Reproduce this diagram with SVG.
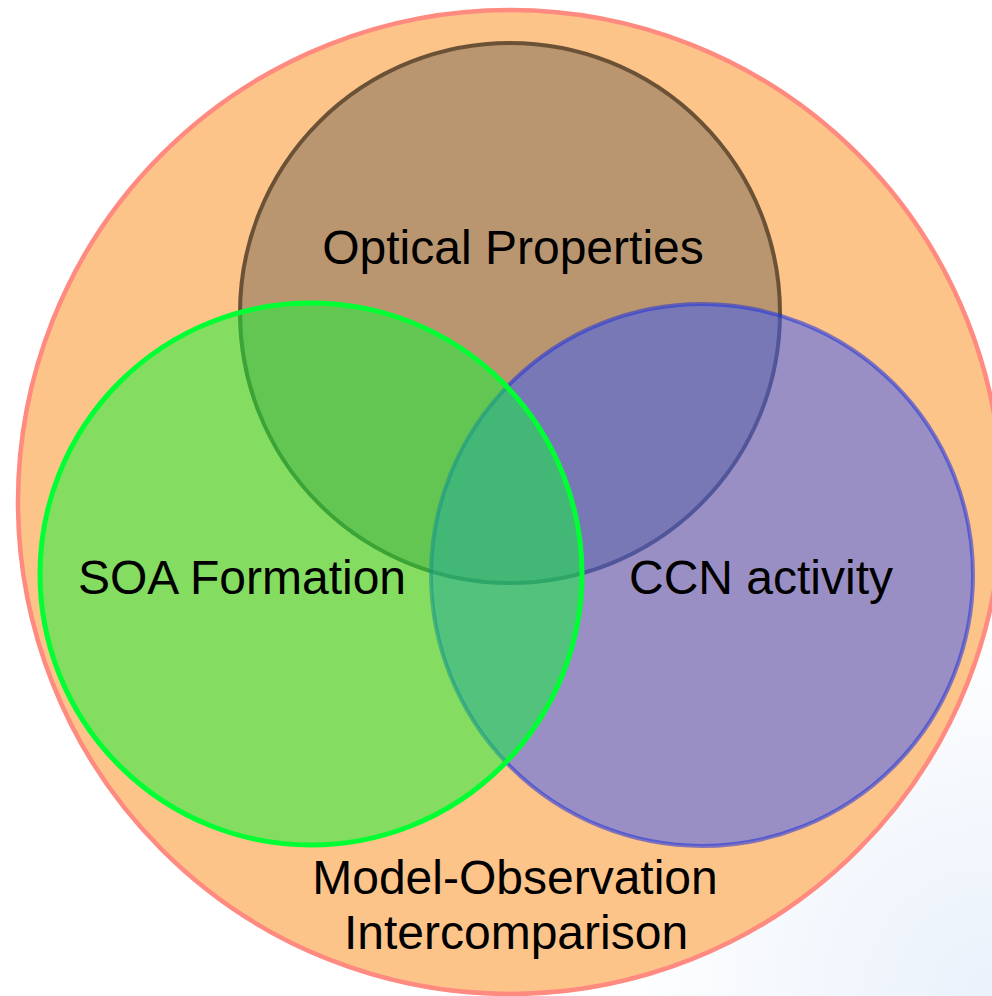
<svg xmlns="http://www.w3.org/2000/svg" width="992" height="996" viewBox="0 0 992 996">
<defs>
<radialGradient id="bg" cx="992" cy="996" r="380" gradientUnits="userSpaceOnUse">
<stop offset="0" stop-color="#EAF1FB"/>
<stop offset="0.6" stop-color="#F6F9FD"/>
<stop offset="1" stop-color="#FFFFFF"/>
</radialGradient>
<style>
.lbl{font-family:"Liberation Sans",Arial,sans-serif;font-size:48px;fill:#000;text-anchor:middle}
</style>
</defs>
<rect width="992" height="996" fill="url(#bg)"/>
<g id="outer">
<circle cx="510" cy="502" r="492" fill="#FDC48A" stroke="#FF8A80" stroke-width="4.5"/>
</g>
<g id="optical">
<circle cx="510" cy="313" r="270" fill="#BA9670" stroke="#6B5237" stroke-width="4"/>
</g>
<g id="ccn">
<circle cx="702" cy="575" r="271" fill="#375AFE" fill-opacity="0.5" stroke="#1E32DC" stroke-opacity="0.55" stroke-width="4"/>
</g>
<g id="soa">
<circle cx="311" cy="574" r="271" fill="#0BF636" fill-opacity="0.5" stroke="#00FF33" stroke-width="5"/>
</g>
<g id="labels">
<text class="lbl" x="513" y="264">Optical Properties</text>
<text class="lbl" x="242" y="594">SOA Formation</text>
<text class="lbl" x="761" y="594">CCN activity</text>
<text class="lbl" x="515" y="894">Model-Observation</text>
<text class="lbl" x="516" y="949">Intercomparison</text>
</g>
</svg>
